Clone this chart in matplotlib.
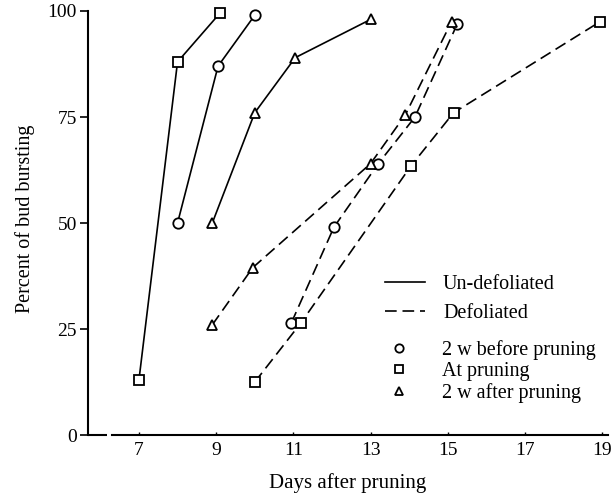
import matplotlib
matplotlib.use("Agg")
import matplotlib.pyplot as plt
from matplotlib.lines import Line2D

plt.rcParams["font.family"] = ["Liberation Serif", "DejaVu Serif"]

# ── Data ─────────────────────────────────────────────────────────────────────
# Un-defoliated (solid lines)
undef_before_x = [8.0, 9.05, 10.0]
undef_before_y = [50, 87, 99]
undef_at_x = [7.0, 8.0, 9.1]
undef_at_y = [13, 88, 99.5]
undef_after_x = [8.9, 10.0, 11.05, 13.0]
undef_after_y = [50, 76, 89, 98]

# Defoliated (dashed lines)
def_before_x = [10.95, 12.05, 13.2, 14.15, 15.25]
def_before_y = [26.5, 49, 64, 75, 97]
def_at_x = [10.0, 11.2, 14.05, 15.15, 18.95]
def_at_y = [12.5, 26.5, 63.5, 76, 97.5]
def_after_x = [8.9, 9.95, 13.0, 13.9, 15.1]
def_after_y = [26, 39.5, 64, 75.5, 97.5]

x_ticks = [7, 9, 11, 13, 15, 17, 19]
y_ticks = [0, 25, 50, 75, 100]

DASHED = (0, (7, 3.5))
MK = dict(markersize=7.5, markerfacecolor="white", markeredgecolor="black",
          markeredgewidth=1.3, color="black", lw=1.2)

fig = plt.figure(figsize=(6.11, 4.99), dpi=100)
ax = fig.add_axes([0.144, 0.128, 0.851, 0.867])

ax.plot(undef_before_x, undef_before_y, marker="o", ls="-", **MK)
ax.plot(undef_at_x, undef_at_y, marker="s", ls="-", **MK)
ax.plot(undef_after_x, undef_after_y, marker="^", ls="-", **MK)
ax.plot(def_before_x, def_before_y, marker="o", ls=DASHED, **MK)
ax.plot(def_at_x, def_at_y, marker="s", ls=DASHED, **MK)
ax.plot(def_after_x, def_after_y, marker="^", ls=DASHED, **MK)

xmin, xmax = 5.68, 19.15
ax.set_xlim(xmin, xmax)
ax.set_ylim(0, 102)

# spines: left + broken bottom axis
for side in ("top", "right"):
    ax.spines[side].set_visible(False)
ax.spines["left"].set_bounds(0, 100)
ax.spines["left"].set_linewidth(1.5)
ax.spines["bottom"].set_bounds(6.30, xmax)
ax.spines["bottom"].set_linewidth(1.5)
ax.plot([xmin, 6.16], [0, 0], color="black", lw=1.5, clip_on=False,
        solid_capstyle="butt")

ax.set_xticks(x_ticks)
ax.set_yticks(y_ticks)
ax.tick_params(axis="y", direction="out", length=6, width=1.2, pad=2, labelsize=14)
ax.tick_params(axis="x", direction="in", length=2.5, width=1.0, pad=5, labelsize=14)

ax.set_xlabel("Days after pruning", fontsize=15, labelpad=10)
ax.set_ylabel("Percent of bud bursting", fontsize=14.5, labelpad=9)

# legends
line_handles = [
    Line2D([0], [0], color="black", lw=1.2, ls="-", label="Un-defoliated"),
    Line2D([0], [0], color="black", lw=1.2, ls=DASHED, label="Defoliated"),
]
leg1 = ax.legend(handles=line_handles, loc="upper left",
                 bbox_to_anchor=(0.555, 0.388), frameon=False, fontsize=14.5,
                 handlelength=2.0, handletextpad=0.9, labelspacing=0.45,
                 borderaxespad=0)
ax.add_artist(leg1)

marker_handles = [
    Line2D([0], [0], marker="o", ls="none", markersize=6, markerfacecolor="white",
           markeredgecolor="black", markeredgewidth=1.3, label="2 w before pruning"),
    Line2D([0], [0], marker="s", ls="none", markersize=6, markerfacecolor="white",
           markeredgecolor="black", markeredgewidth=1.3, label="At pruning"),
    Line2D([0], [0], marker="^", ls="none", markersize=6, markerfacecolor="white",
           markeredgecolor="black", markeredgewidth=1.3, label="2 w after pruning"),
]
ax.legend(handles=marker_handles, loc="upper left",
          bbox_to_anchor=(0.555, 0.238), frameon=False, fontsize=14.5,
          handlelength=1.4, handletextpad=1.45, labelspacing=0.1,
          borderaxespad=0)

fig.savefig("out.png", dpi=100)
